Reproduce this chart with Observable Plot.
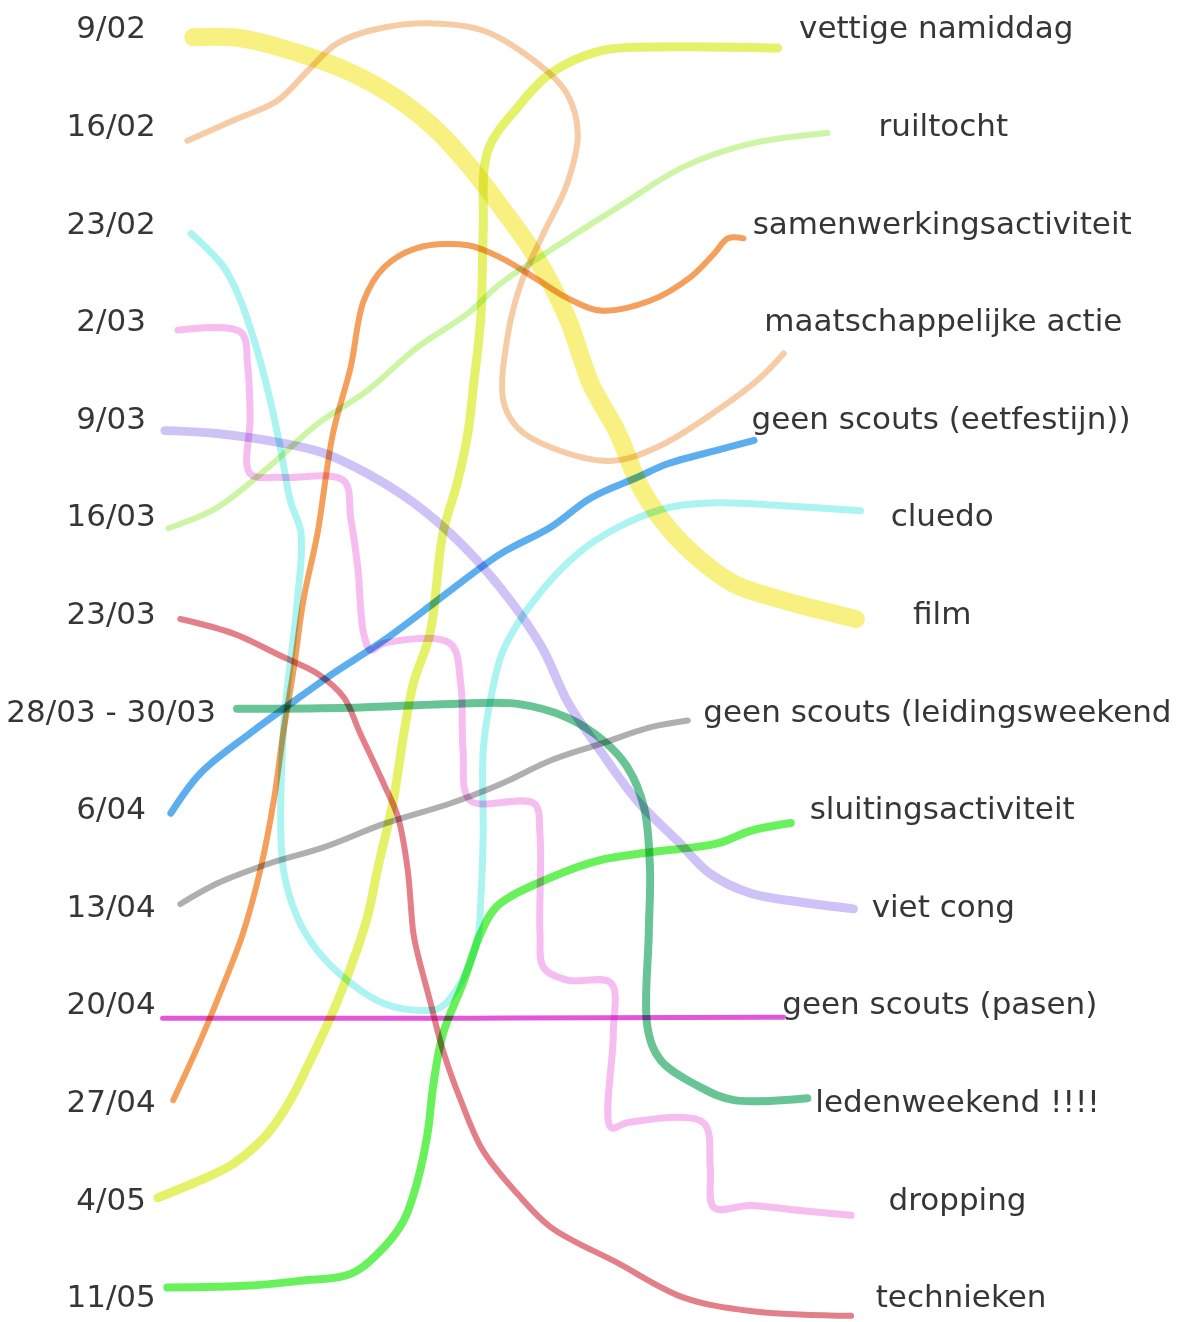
<!DOCTYPE html>
<html>
<head>
<meta charset="utf-8">
<script src="https://cdn.jsdelivr.net/npm/d3@7"></script>
<script src="https://cdn.jsdelivr.net/npm/@observablehq/plot@0.6"></script>
<style>
  html, body { margin: 0; padding: 0; background: #fff; }
  #chart svg { display: block; }
</style>
</head>
<body>
<div id="chart"></div>
<script>
// Left column: dates (row index = position in list)
const dates = ["9/02", "16/02", "23/02", "2/03", "9/03", "16/03", "23/03", "28/03 - 30/03",
  "6/04", "13/04", "20/04", "27/04", "4/05", "11/05"];
// Right column: activities (row index = position in list)
const activities = ["vettige namiddag", "ruiltocht", "samenwerkingsactiviteit", "maatschappelijke actie",
  "geen scouts (eetfestijn))", "cluedo", "film", "geen scouts (leidingsweekend", "sluitingsactiviteit",
  "viet cong", "geen scouts (pasen)", "ledenweekend !!!!", "dropping", "technieken"];
// Which activity each date is linked to (index into activities)
const linkTo = [6, 3, 5, 12, 9, 1, 13, 11, 4, 7, 10, 2, 0, 8];

// Hand-drawn route of each link: [horizontal progress (% of width), row]
const route0902 = [[16.3,0.09],[20.3,0.10],[25.4,0.26],[29.6,0.45],[33.8,0.74],[37.2,1.08],[39.7,1.42],[42.3,1.83],[45.1,2.31],[47.9,2.96],[49.9,3.64],[52.2,4.15],[54.1,4.70],[56.4,5.11],[59.2,5.45],[62.0,5.69],[66.2,5.86],[72.3,6.05]];
const route1602 = [[15.8,1.15],[19.7,0.94],[23.4,0.74],[26.0,0.43],[28.5,0.15],[32.4,-0.01],[37.2,-0.05],[40.8,0.02],[45.1,0.33],[47.9,0.67],[48.8,1.08],[47.9,1.59],[45.9,2.10],[44.0,2.61],[42.9,3.13],[42.5,3.81],[43.7,4.09],[46.5,4.29],[51.6,4.43],[55.5,4.29],[60.6,3.91],[64.2,3.58],[66.2,3.33]];
const route2302 = [[16.1,2.10],[18.9,2.45],[20.3,2.79],[21.7,3.30],[22.8,3.81],[23.7,4.32],[24.5,4.84],[25.4,5.17],[25.1,5.86],[23.9,7.22],[23.9,8.60],[25.1,9.11],[26.8,9.45],[29.6,9.78],[32.4,9.99],[35.2,10.06],[37.2,10.03],[38.9,9.78],[40.3,9.34],[40.6,8.93],[40.8,8.25],[40.8,7.40],[41.4,6.89],[42.5,6.37],[45.1,5.86],[48.8,5.38],[52.2,5.11],[56.4,4.91],[60.6,4.86],[66.2,4.89],[72.7,4.94]];
const route0203 = [[15.0,3.09],[20.3,3.11],[20.9,3.47],[21.1,3.99],[21.1,4.56],[23.9,4.60],[29.0,4.63],[29.6,5.01],[30.2,5.52],[30.7,6.20],[31.3,6.37],[32.4,6.30],[38.0,6.30],[38.9,6.71],[39.1,7.40],[39.7,7.91],[45.1,7.94],[45.6,8.25],[45.6,9.27],[45.9,9.62],[47.9,9.75],[51.6,9.78],[51.8,10.30],[51.6,11.26],[53.0,11.21],[59.4,11.21],[60.0,11.67],[60.3,12.08],[63.4,12.06],[67.6,12.11],[71.9,12.16]];
const route0903 = [[13.9,4.12],[18.3,4.15],[23.9,4.25],[27.3,4.35],[31.0,4.56],[34.7,4.84],[38.0,5.17],[40.8,5.52],[43.7,5.96],[45.9,6.37],[47.9,6.89],[50.7,7.40],[53.8,7.91],[57.2,8.32],[60.0,8.66],[63.4,8.86],[67.6,8.95],[72.1,9.02]];
const route1603 = [[14.2,5.12],[18.3,4.91],[22.6,4.50],[26.8,4.05],[31.0,3.71],[35.2,3.27],[39.5,2.92],[42.3,2.61],[46.5,2.27],[52.2,1.83],[57.7,1.42],[63.4,1.18],[69.9,1.07]];
const route2303 = [[15.2,6.05],[19.7,6.20],[23.9,6.44],[26.8,6.61],[29.0,6.85],[30.4,7.22],[32.4,7.74],[33.6,8.08],[34.4,8.60],[34.9,9.27],[35.2,9.45],[36.3,9.96],[37.4,10.47],[38.9,10.98],[40.8,11.50],[43.7,11.94],[46.5,12.28],[52.2,12.65],[57.7,13.00],[63.4,13.14],[71.9,13.19]];
const route2803 = [[20.0,6.97],[29.6,6.96],[38.0,6.92],[43.7,6.92],[47.9,7.06],[51.0,7.30],[53.0,7.57],[54.4,7.98],[54.9,8.60],[54.8,9.27],[54.7,10.24],[55.8,10.57],[59.2,10.85],[62.0,10.98],[68.2,10.96]];
const route0604 = [[14.4,8.04],[16.9,7.63],[21.1,7.22],[24.5,6.92],[28.1,6.61],[32.4,6.27],[36.6,5.89],[38.0,5.76],[42.3,5.38],[46.5,5.11],[49.9,4.81],[53.8,4.60],[56.4,4.46],[60.6,4.32],[63.7,4.22]];
const route1304 = [[15.2,8.97],[18.3,8.76],[22.6,8.56],[27.3,8.39],[32.4,8.15],[38.0,7.94],[42.3,7.74],[46.5,7.50],[50.7,7.33],[54.9,7.16],[58.1,7.09]];
const route2004 = [[13.7,10.14],[40.0,10.14],[66.2,10.13]];
const route2704 = [[14.6,10.98],[16.9,10.37],[18.9,9.78],[20.5,9.27],[22.0,8.60],[23.1,7.91],[23.9,7.22],[24.8,6.55],[25.6,5.86],[26.8,5.17],[28.1,4.15],[29.6,3.47],[30.7,2.79],[32.4,2.45],[35.2,2.25],[39.5,2.22],[42.3,2.35],[45.1,2.55],[47.9,2.76],[50.7,2.89],[54.9,2.79],[58.3,2.55],[60.3,2.31],[61.5,2.15],[62.8,2.15]];
const route0405 = [[13.3,11.98],[16.9,11.80],[19.7,11.63],[22.6,11.32],[24.5,10.98],[26.2,10.57],[27.9,10.13],[29.6,9.62],[31.0,9.11],[31.9,8.60],[33.2,7.91],[34.1,7.22],[34.9,6.71],[36.3,6.20],[37.4,5.17],[38.6,4.66],[39.5,4.15],[40.0,3.64],[40.6,2.96],[40.8,2.10],[41.2,1.25],[43.7,0.81],[46.5,0.46],[50.7,0.23],[54.9,0.19],[65.7,0.20]];
const route1105 = [[14.1,12.90],[21.1,12.88],[25.4,12.83],[29.6,12.76],[32.4,12.49],[34.1,12.21],[35.2,11.83],[36.1,11.32],[36.6,10.81],[37.4,10.30],[39.1,9.78],[40.6,9.27],[42.0,8.99],[46.5,8.70],[50.7,8.52],[54.9,8.44],[60.6,8.35],[63.4,8.22],[66.8,8.14]];

const routes = [route0902, route1602, route2302, route0203, route0903, route1603, route2303,
  route2803, route0604, route1304, route2004, route2704, route0405, route1105];

// Styles (per date row)
const lineColors = ["#f7ef74", "#f4c69c", "#a3f3ef", "#f5b6ee", "#c9bbf5", "#c6f59c", "#e0717c",
  "#58bd8a", "#4aa5ec", "#a6a6a6", "#de44d6", "#f3964a", "#e3f05a", "#58ef48"];
const lineWidths = [18, 6, 7, 7, 9, 6, 6, 8, 7, 6, 5, 6, 9, 8];
// Layout: horizontal centre of each activity label (% of width)
const activityLabelCenter = [79.1, 79.7, 79.6, 79.7, 79.5, 79.6, 79.6, 79.2, 79.6, 79.7, 79.4, 80.9, 80.9, 81.2];

const points = routes.flatMap((r, i) => r.map(([x, y]) => ({ line: i, date: dates[i], activity: activities[linkTo[i]], x, y })));

const lineMarks = routes.map((r, i) => Plot.line(points.filter(p => p.line === i), {
  x: "x", y: "y",
  stroke: lineColors[i],
  strokeWidth: lineWidths[i],
  strokeOpacity: 0.9,
  strokeLinecap: "round",
  strokeLinejoin: "round",
  curve: "catmull-rom",
  mixBlendMode: "multiply"
}));

const font = { fontFamily: "DejaVu Sans", fontSize: 31, fill: "#363636" };

const chart = Plot.plot({
  width: 1183,
  height: 1322,
  margin: 0,
  x: { domain: [0, 100], axis: null },
  y: { domain: [-0.287, 13.258], reverse: true, axis: null },
  marks: [
    ...lineMarks,
    Plot.text(dates, { x: () => 9.35, y: (d, i) => i, text: d => d, textAnchor: "middle", ...font }),
    Plot.text(activities, { x: (d, i) => activityLabelCenter[i], y: (d, i) => i, text: d => d, textAnchor: "middle", ...font })
  ]
});
document.getElementById("chart").append(chart);
</script>
</body>
</html>
